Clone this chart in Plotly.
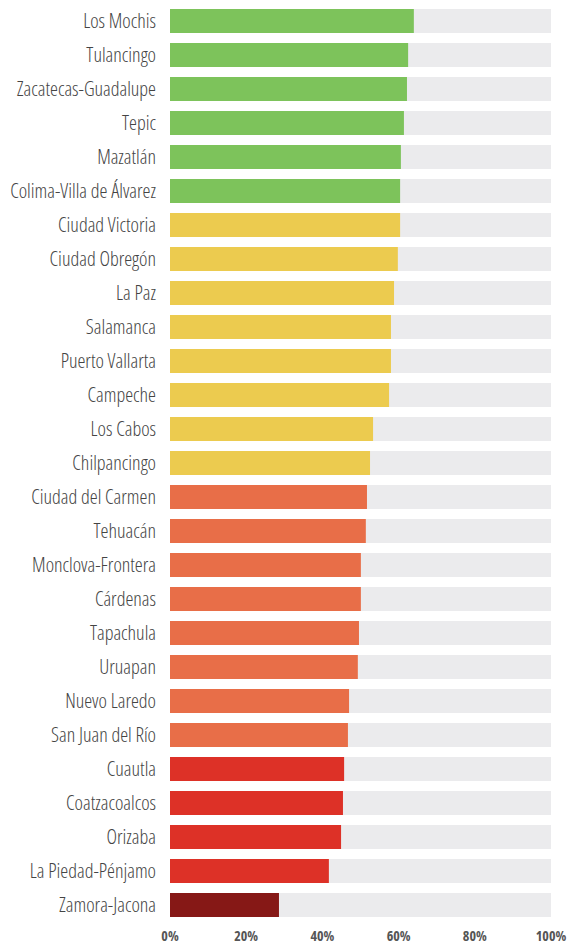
import plotly.graph_objects as go

cities = ["Los Mochis", "Tulancingo", "Zacatecas-Guadalupe", "Tepic", "Mazatlán",
          "Colima-Villa de Álvarez", "Ciudad Victoria", "Ciudad Obregón", "La Paz",
          "Salamanca", "Puerto Vallarta", "Campeche", "Los Cabos", "Chilpancingo",
          "Ciudad del Carmen", "Tehuacán", "Monclova-Frontera", "Cárdenas", "Tapachula",
          "Uruapan", "Nuevo Laredo", "San Juan del Río", "Cuautla", "Coatzacoalcos",
          "Orizaba", "La Piedad-Pénjamo", "Zamora-Jacona"]
values = [64.0, 62.5, 62.2, 61.4, 60.6, 60.4, 60.4, 59.8, 58.8, 58.0, 58.0, 57.5,
          53.3, 52.5, 51.7, 51.4, 50.1, 50.1, 49.6, 49.3, 47.0, 46.7, 45.7, 45.4,
          44.9, 41.7, 28.6]
groups = ["verde"] * 6 + ["amarillo"] * 8 + ["naranja"] * 8 + ["rojo"] * 4 + ["vino"]
group_colors = {"verde": "#7DC35B", "amarillo": "#ECCB4F", "naranja": "#E86E48",
                "rojo": "#DD3127", "vino": "#861816"}
tick_vals = [0, 20, 40, 60, 80, 100]
tick_text = ["0%", "20%", "40%", "60%", "80%", "100%"]

colors = [group_colors[g] for g in groups]
FONT = "Open Sans"

fig = go.Figure()
fig.add_trace(go.Bar(y=cities, x=[100] * len(cities), orientation="h",
                     marker=dict(color="#EBEBED", line=dict(width=0)),
                     hoverinfo="skip", showlegend=False))
fig.add_trace(go.Bar(y=cities, x=values, orientation="h",
                     marker=dict(color=colors, line=dict(width=0)),
                     showlegend=False))

fig.update_layout(
    width=572, height=946,
    margin=dict(l=170, r=21, t=4, b=24, autoexpand=False),
    barmode="overlay", bargap=0.294,
    plot_bgcolor="white", paper_bgcolor="white",
    font=dict(family=FONT),
)
fig.update_yaxes(autorange="reversed", showgrid=False, zeroline=False, showline=False,
                 ticks="", ticklabelstandoff=13, automargin=False,
                 tickfont=dict(size=20, color="#444444", weight=300, family=FONT))
fig.update_xaxes(range=[0, 100], tickvals=tick_vals, ticktext=tick_text,
                 showgrid=False, zeroline=False, showline=False, ticks="", automargin=False,
                 ticklabelstandoff=4,
                 tickfont=dict(size=14, color="#555555", weight="bold", family=FONT))

post = (
    "document.body.style.margin='0';document.body.style.overflow='hidden';"
    "var s=document.createElement('style');"
    "s.textContent='.ytick text, .xtick text { font-stretch: 75% !important; }';"
    "document.head.appendChild(s);"
)
fig.write_html("out.html", config={"displayModeBar": False}, post_script=post)
